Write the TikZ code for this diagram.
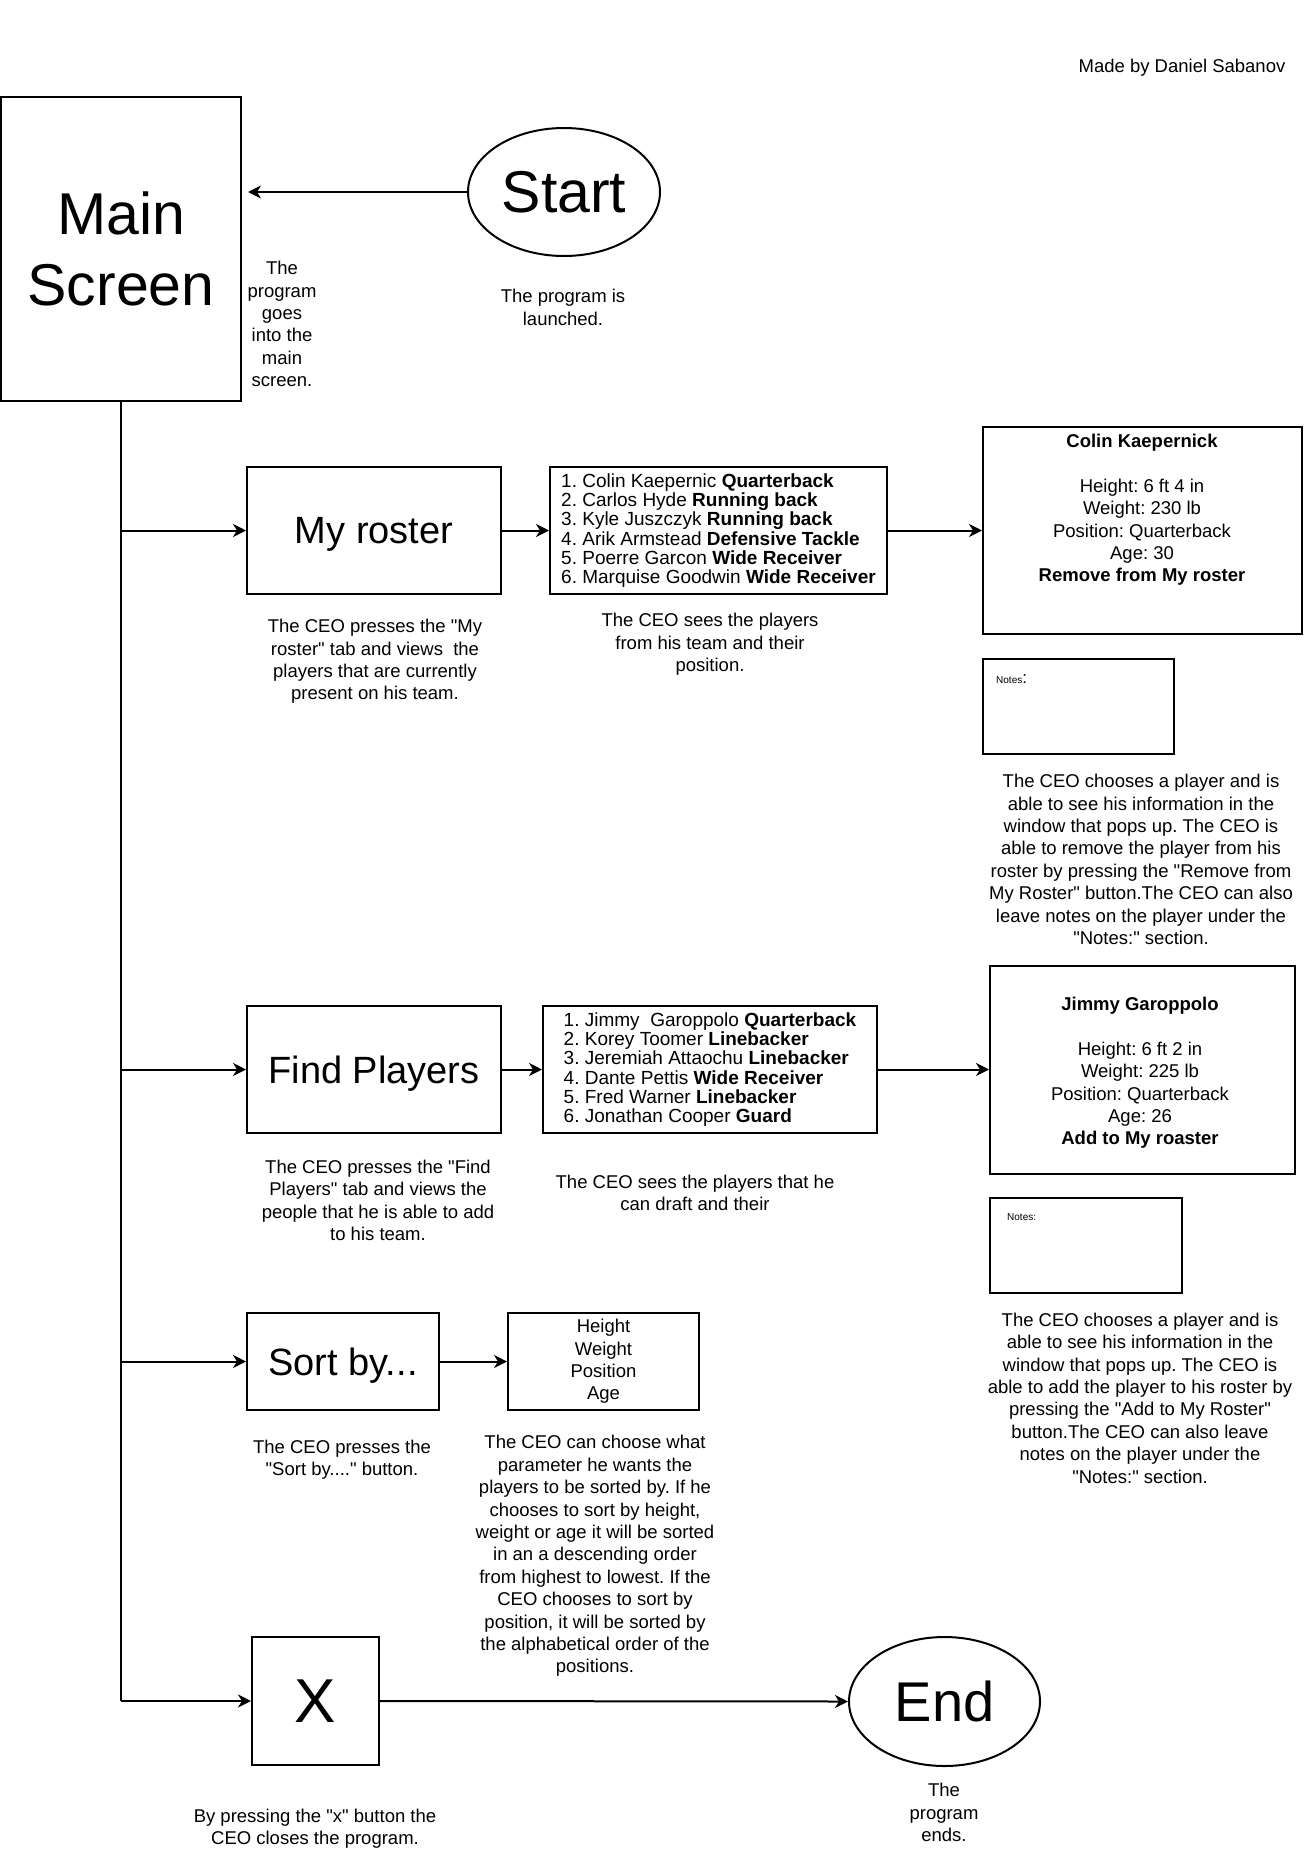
\documentclass[tikz,border=0pt]{standalone}
\usepackage{fontspec}
\setmainfont{Liberation Sans}[Ligatures=TeXOff]
\usetikzlibrary{arrows.meta,calc,shapes.geometric}
\frenchspacing

\tikzset{
  frame/.style={draw=black, line width=2pt, rectangle, inner sep=0pt},
  oval/.style={draw=black, line width=2pt, ellipse, inner sep=0pt},
  link/.style={draw=black, line width=2pt, -{Stealth[length=13pt,width=13pt,inset=4pt]}},
  wire/.style={draw=black, line width=2pt},
  note/.style={align=center, inner sep=0pt, font=\fontsize{18.5}{22.4}\selectfont},
  hugetext/.style={align=center, font=\fontsize{59}{71}\selectfont},
  bigtext/.style={font=\fontsize{38}{44}\selectfont, text depth=0pt},
  listtext/.style={align=left, font=\fontsize{19}{19.2}\selectfont},
  tiny/.style={inner sep=0pt, anchor=west, font=\fontsize{10}{12}\selectfont},
}

\begin{document}
\begin{tikzpicture}[x=1pt,y=-1pt]
\useasboundingbox (0,0) rectangle (1304,1858);

% author credit
\node[note] (credit) at (1182,68) {Made by Daniel Sabanov};

% entry point
\node[frame, minimum width=240pt, minimum height=304pt, hugetext] (main) at (121,249) {Main\\Screen};
\node[oval, minimum width=192pt, minimum height=128pt, hugetext] (start) at (564,192) {Start};
\node[note] (mainCap) at (282,324) {The\\program\\goes\\into the\\main\\screen.};
\node[note] (startCap) at (563,307.5) {The program is\\launched.};

% roster branch
\node[frame, minimum width=254pt, minimum height=127pt, bigtext] (roster) at (374,530.5) {My roster};
\node[note] (rosterCap) at (375,661.5) {The CEO presses the "My\\roster" tab and views\ \ the\\players that are currently\\present on his team.};
\node[frame, minimum width=337pt, minimum height=127pt, listtext] (rlist) at (718.5,530.5)
  {1. Colin Kaepernic \textbf{Quarterback}\\
   2. Carlos Hyde \textbf{Running back}\\
   3. Kyle Juszczyk \textbf{Running back}\\
   4. Arik Armstead \textbf{Defensive Tackle}\\
   5. Poerre Garcon \textbf{Wide Receiver}\\
   6. Marquise Goodwin \textbf{Wide Receiver}};
\node[note] (rlistCap) at (710,644.5) {The CEO sees the players\\from his team and their\\position.};
\node[frame, minimum width=319pt, minimum height=207pt] (colin) at (1142.5,530.5) {};
\node[note] (colinText) at (1142,510) {\textbf{Colin Kaepernick}\\\mbox{}\\Height: 6 ft 4 in\\Weight: 230 lb\\Position: Quarterback\\Age: 30\\\textbf{Remove from My roster}};
\node[frame, minimum width=191pt, minimum height=95pt] (notes1) at (1078.5,706.5) {};
\node[tiny] (notes1Label) at (996,679) {Notes{\fontsize{17}{20}\selectfont :}};
\node[note] (colinCap) at (1141,859.5) {The CEO chooses a player and is\\able to see his information in the\\window that pops up. The CEO is\\able to remove the player from his\\roster by pressing the "Remove from\\My Roster" button.The CEO can also\\leave notes on the player under the\\"Notes:" section.};

% find-players branch
\node[frame, minimum width=254pt, minimum height=127pt, bigtext] (find) at (374,1069.5) {Find Players};
\node[note] (findCap) at (378,1200.5) {The CEO presses the "Find\\Players" tab and views the\\people that he is able to add\\to his team.};
\node[frame, minimum width=334pt, minimum height=127pt, listtext] (flist) at (710,1069.5)
  {1. Jimmy\ \ Garoppolo \textbf{Quarterback}\\
   2. Korey Toomer \textbf{Linebacker}\\
   3. Jeremiah Attaochu \textbf{Linebacker}\\
   4. Dante Pettis \textbf{Wide Receiver}\\
   5. Fred Warner \textbf{Linebacker}\\
   6. Jonathan Cooper \textbf{Guard}};
\node[note] (flistCap) at (695,1193) {The CEO sees the players that he\\can draft and their};
\node[frame, minimum width=305pt, minimum height=208pt] (jimmy) at (1142.5,1070) {};
\node[note] (jimmyText) at (1140,1073) {\textbf{Jimmy Garoppolo}\\\mbox{}\\Height: 6 ft 2 in\\Weight: 225 lb\\Position: Quarterback\\Age: 26\\\textbf{Add to My roaster}};
\node[frame, minimum width=192pt, minimum height=95pt] (notes2) at (1086,1245.5) {};
\node[tiny] (notes2Label) at (1007,1217) {Notes:};
\node[note] (jimmyCap) at (1140,1398) {The CEO chooses a player and is\\able to see his information in the\\window that pops up. The CEO is\\able to add the player to his roster by\\pressing the "Add to My Roster"\\button.The CEO can also leave\\notes on the player under the\\"Notes:" section.};

% sort branch
\node[frame, minimum width=192pt, minimum height=97pt, bigtext] (sort) at (343,1361.5) {Sort by...};
\node[note] (sortCap) at (342,1459.5) {The CEO presses the\\"Sort by...." button.};
\node[frame, minimum width=191pt, minimum height=97pt, note] (opts) at (603.5,1361.5) {Height\\Weight\\Position\\Age};
\node[note] (optsCap) at (595,1556) {The CEO can choose what\\parameter he wants the\\players to be sorted by. If he\\chooses to sort by height,\\weight or age it will be sorted\\in an a descending order\\from highest to lowest. If the\\CEO chooses to sort by\\position, it will be sorted by\\the alphabetical order of the\\positions.};

% exit branch
\node[frame, minimum width=127pt, minimum height=128pt, font=\fontsize{62}{70}\selectfont] (xbtn) at (315.5,1701) {X};
\node[note] (xCap) at (315,1828.5) {By pressing the "x" button the\\CEO closes the program.};
\node[oval, minimum width=191pt, minimum height=129pt, font=\fontsize{56}{66}\selectfont] (finish) at (944.5,1701.5) {End};
\node[note] (finishCap) at (944,1812.5) {The\\program\\ends.};

% connectors
\draw[link, shorten >=6pt] (start.west) -- (start.west -| main.east);
\coordinate (trunkEnd) at (main.south |- xbtn.west);
\draw[wire] (main.south) -- (trunkEnd);
\draw[link] (main.south |- roster.west) -- (roster.west);
\draw[link] (roster.east) -- (rlist.west);
\draw[link] (rlist.east) -- (colin.west);
\draw[link] (main.south |- find.west) -- (find.west);
\draw[link] (find.east) -- (flist.west);
\draw[link] (flist.east) -- (flist.east -| jimmy.west);
\draw[link] (main.south |- sort.west) -- (sort.west);
\draw[link] (sort.east) -- (opts.west);
\draw[link] (trunkEnd) -- (xbtn.west);
\draw[link] (xbtn.east) -- (finish.west);
\end{tikzpicture}
\end{document}
